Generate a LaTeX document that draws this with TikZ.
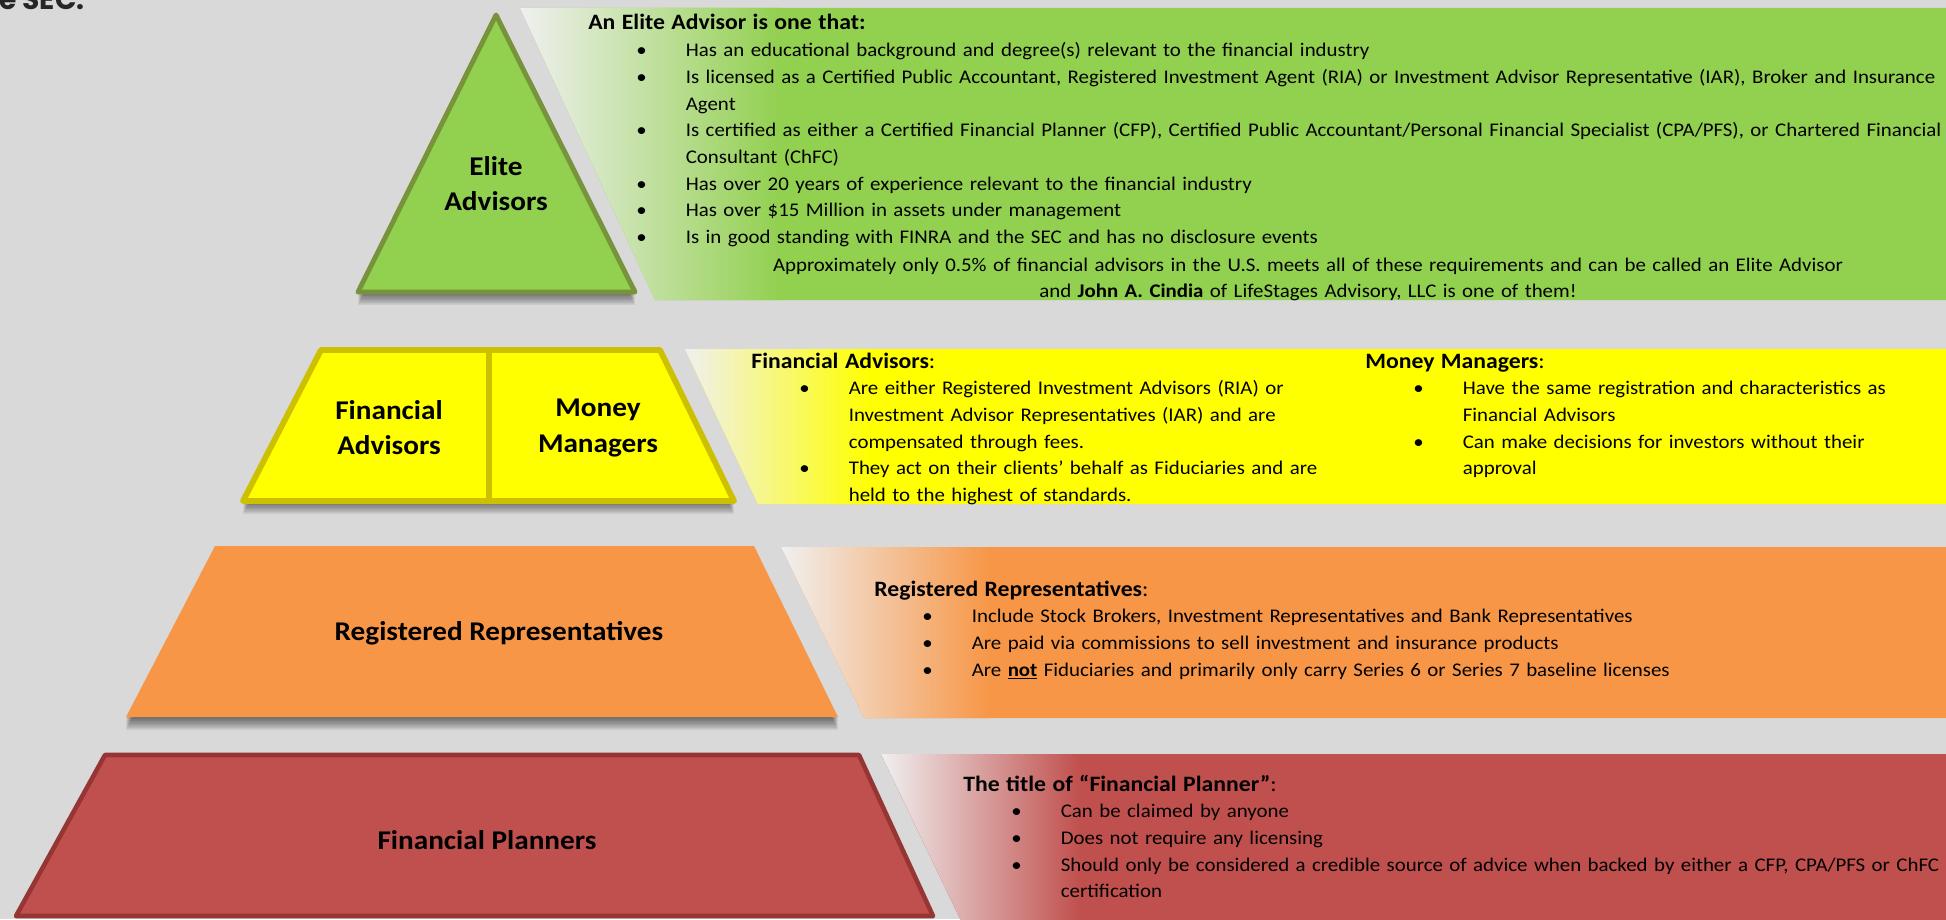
\documentclass[tikz,border=0pt]{standalone}
\usepackage{fontspec}
\setmainfont{Carlito}[FakeStretch=1.08]
\newfontfamily\headfont{Poppins}
\usepackage{tikz}
\definecolor{bggray}{RGB}{217,217,217}
\definecolor{fadegray}{RGB}{240,240,240}
\definecolor{elitegreen}{RGB}{146,208,80}
\definecolor{elitedark}{RGB}{119,147,60}
\definecolor{advyellow}{RGB}{255,255,0}
\definecolor{advdark}{RGB}{204,192,0}
\definecolor{reporange}{RGB}{247,150,70}
\definecolor{planred}{RGB}{192,80,77}
\definecolor{planreddark}{RGB}{150,54,52}

% bullet list used inside the panels
\newenvironment{tierlist}{%
  \begin{list}{\textbullet}{%
    \setlength{\leftmargin}{1.95cm}\setlength{\labelwidth}{1.95cm}%
    \setlength{\labelsep}{0pt}\setlength{\itemsep}{0pt}%
    \setlength{\parsep}{0pt}\setlength{\topsep}{0pt}\setlength{\partopsep}{0pt}%
    \renewcommand{\makelabel}[1]{\hspace*{0.96cm}##1\hfill}}}%
  {\end{list}}
% panel headings are set a little larger
\newcommand{\panelhead}[1]{{\fontsize{12.5}{15.2}\selectfont #1}}

\tikzset{
  tierlabel/.style={font=\fontsize{15.4}{20}\selectfont\bfseries, align=center, inner sep=0pt},
  paneltext/.style={anchor=base west, inner sep=0pt, text width=30cm, align=left,
    font=\fontsize{11}{15.2}\selectfont},
  colbox/.style={paneltext, text width=13cm},
  shadowlayer/.style={black, opacity=0.1}
}

\begin{document}
\begin{tikzpicture}[x=0.02cm, y=-0.02cm]
  % canvas
  \useasboundingbox (0,0) rectangle (1946,919);
  \fill[bggray] (0,0) rectangle (1946,919);

  % tail of the line above
  \node[anchor=base west, inner sep=0pt, text=black!85,
    font=\headfont\bfseries\fontsize{16}{18}\selectfont] (secTail) at (-1,10) {e SEC.};

  % shapes of the four tiers
  \def\elitetri{(496,15) -- (635,292) -- (358,292) -- cycle}
  \def\elitepanel{(520,8) -- (1950,8) -- (1950,300) -- (655,300) -- cycle}
  \def\advtrap{(321,350) -- (660,350) -- (734,501) -- (243,501) -- cycle}
  \def\advpanel{(685,349) -- (1950,349) -- (1950,504) -- (758,504) -- cycle}
  \def\reptrap{(215,546) -- (754,546) -- (838,717) -- (126,717) -- cycle}
  \def\reppanel{(781,547) -- (1950,547) -- (1950,718) -- (864,718) -- cycle}
  \def\plantrap{(105,755) -- (859,755) -- (933,916) -- (16,916) -- cycle}
  \def\planpanel{(881,754) -- (1950,754) -- (1950,925) -- (963,925) -- cycle}

  % Elite tier
  \begin{scope}
    \clip \elitepanel;
    \fill[elitegreen] \elitepanel;
    \shade[left color=fadegray, right color=elitegreen] (520,0) rectangle (780,310);
  \end{scope}
  \foreach \s in {1,...,6}
    \fill[shadowlayer, yshift={-1.2*\s pt}] \elitetri;
  \filldraw[fill=elitegreen, draw=elitedark, line width=2.8pt, line join=round] \elitetri;
  \node[tierlabel] (elite) at (496,184) {Elite\\Advisors};

  % Advisors / Managers tier
  \begin{scope}
    \clip \advpanel;
    \fill[advyellow] \advpanel;
    \shade[left color=fadegray, right color=advyellow] (685,340) rectangle (870,510);
  \end{scope}
  \foreach \s in {1,...,6}
    \fill[shadowlayer, yshift={-1.2*\s pt}] \advtrap;
  \filldraw[fill=advyellow, draw=advdark, line width=3.3pt, line join=round] \advtrap;
  \draw[advdark, line width=3.3pt] (489,350) -- (489,501);
  \node[tierlabel] (finAdv) at (389,428) {Financial\\Advisors};
  \node[tierlabel] (moneyMgr) at (598,428) {Money\\Managers};

  % Representatives tier
  \begin{scope}
    \clip \reppanel;
    \fill[reporange] \reppanel;
    \shade[left color=fadegray, right color=reporange] (781,540) rectangle (990,725);
  \end{scope}
  \foreach \s in {1,...,6}
    \fill[shadowlayer, yshift={-1.2*\s pt}] \reptrap;
  \fill[reporange] \reptrap;
  \node[tierlabel] (regRep) at (499,633) {Registered Representatives};

  % Planners tier
  \begin{scope}
    \clip \planpanel;
    \fill[planred] \planpanel;
    \shade[left color=fadegray, right color=planred] (881,750) rectangle (1080,930);
  \end{scope}
  \filldraw[fill=planred, draw=planreddark, line width=2.6pt, line join=round] \plantrap;
  \node[tierlabel] (finPlan) at (487,840) {Financial Planners};

  % panel texts
  \node[paneltext] (eliteText) at (588,30) {\panelhead{\textbf{An Elite Advisor is one that:}}
    \begin{tierlist}
      \item Has an educational background and degree(s) relevant to the financial industry
      \item Is licensed as a Certified Public Accountant, Registered Investment Agent (RIA) or Investment Advisor Representative (IAR), Broker and Insurance\\Agent
      \item Is certified as either a Certified Financial Planner (CFP), Certified Public Accountant/Personal Financial Specialist (CPA/PFS), or Chartered Financial\\Consultant (ChFC)
      \item Has over 20 years of experience relevant to the financial industry
      \item Has over \$15 Million in assets under management
      \item Is in good standing with FINRA and the SEC and has no disclosure events
    \end{tierlist}};
  \node[paneltext, anchor=base, align=center, text width=22cm] (eliteNote) at (1308,271)
    {Approximately only 0.5\% of financial advisors in the U.S. meets all of these requirements and can be called an Elite Advisor\\
     and \textbf{John A. Cindia} of LifeStages Advisory, LLC is one of them!};

  \node[colbox] (finAdvText) at (751,368) {\panelhead{\textbf{Financial Advisors}:}
    \begin{tierlist}
      \item Are either Registered Investment Advisors (RIA) or\\Investment Advisor Representatives (IAR) and are\\compensated through fees.
      \item They act on their clients’ behalf as Fiduciaries and are\\held to the highest of standards.
    \end{tierlist}};
  \node[colbox] (moneyMgrText) at (1365,368) {\panelhead{\textbf{Money Managers}:}
    \begin{tierlist}
      \item Have the same registration and characteristics as\\Financial Advisors
      \item Can make decisions for investors without their\\approval
    \end{tierlist}};

  \node[paneltext] (regRepText) at (874,596) {\panelhead{\textbf{Registered Representatives}:}
    \begin{tierlist}
      \item Include Stock Brokers, Investment Representatives and Bank Representatives
      \item Are paid via commissions to sell investment and insurance products
      \item Are \underline{\textbf{not}} Fiduciaries and primarily only carry Series 6 or Series 7 baseline licenses
    \end{tierlist}};

  \node[paneltext] (finPlanText) at (963,791) {\panelhead{\textbf{The title of “Financial Planner”}:}
    \begin{tierlist}
      \item Can be claimed by anyone
      \item Does not require any licensing
      \item Should only be considered a credible source of advice when backed by either a CFP, CPA/PFS or ChFC\\certification
    \end{tierlist}};
\end{tikzpicture}
\end{document}
